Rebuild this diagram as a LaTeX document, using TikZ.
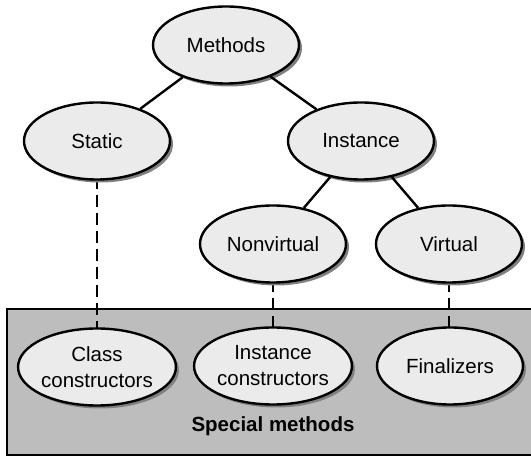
\documentclass[tikz,border=0pt]{standalone}
\usepackage{fontspec}
\setmainfont{Liberation Sans}
\usetikzlibrary{shapes.geometric,shadows}
\definecolor{ellfill}{gray}{0.92}
\definecolor{boxfill}{gray}{0.74}
\definecolor{shadowgray}{gray}{0.5}
\tikzset{
  oval/.style={ellipse, draw=black, line width=2.4pt, fill=ellfill,
    minimum width=146pt, minimum height=77pt, inner sep=0pt,
    font=\fontsize{20.5}{26}\selectfont, align=center,
    drop shadow={shadow xshift=3pt, shadow yshift=-3pt, fill=shadowgray, opacity=1}},
  solidlink/.style={line width=2.4pt},
  dashlink/.style={line width=2.4pt, dash pattern=on 12pt off 6pt},
  specialbox/.style={draw=black, line width=2.2pt, fill=boxfill}
}
\begin{document}
\begin{tikzpicture}[x=1pt,y=-1pt]
\useasboundingbox (0,0) rectangle (531,457);
\fill[white] (0,0) rectangle (531,457);
% special methods box
\path[specialbox] (7,309) rectangle (540,455);
\node[font=\bfseries\fontsize{20.5}{24}\selectfont] (special) at (273,426) {Special methods};
% dashed connectors (drawn first, ellipses cover ends)
\coordinate (dsA) at (97,141);
\coordinate (dsB) at (97,367);
\coordinate (dnA) at (273,244);
\coordinate (dnB) at (273,366);
\coordinate (dvA) at (449,244);
\coordinate (dvB) at (449,366);
\draw[dashlink] (dsA) -- (dsB);
\draw[dashlink] (dnA) -- (dnB);
\draw[dashlink] (dvA) -- (dvB);
% nodes
\node[oval] (methods) at (226,45) {Methods};
\node[oval] (static) at (97,141) {Static};
\node[oval] (instance) at (361,141) {Instance};
\node[oval] (nonvirtual) at (273,244) {Nonvirtual};
\node[oval] (virtual) at (449,244) {Virtual};
\node[oval] (classc) at (97,367) {Class\\constructors};
\node[oval] (instc) at (273,366) {Instance\\constructors};
\node[oval] (final) at (450,366) {Finalizers};
% solid connectors
\draw[solidlink] (methods) -- (static);
\draw[solidlink] (methods) -- (instance);
\draw[solidlink] (instance) -- (nonvirtual);
\draw[solidlink] (instance) -- (virtual);
\end{tikzpicture}
\end{document}
